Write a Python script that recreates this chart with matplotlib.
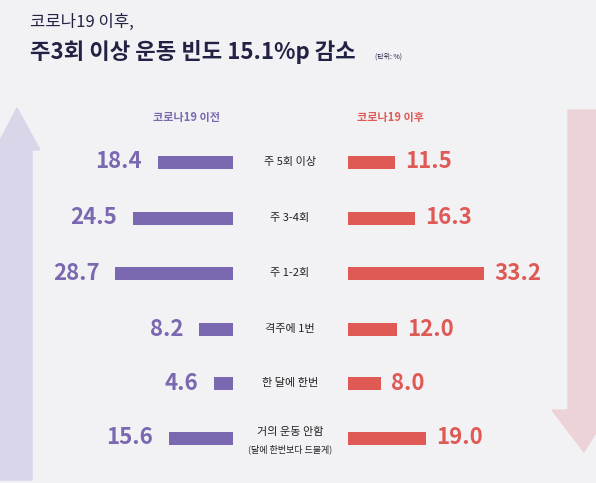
import matplotlib
matplotlib.use("Agg")
import matplotlib.pyplot as plt
from matplotlib.patches import Polygon

plt.rcParams['font.family'] = ['Noto Sans CJK KR', 'DejaVu Sans']

categories = ["주 5회 이상", "주 3-4회", "주 1-2회", "격주에 1번", "한 달에 한번", "거의 운동 안함"]
before = [18.4, 24.5, 28.7, 8.2, 4.6, 15.6]
after = [11.5, 16.3, 33.2, 12.0, 8.0, 19.0]

W, H = 596, 483
fig = plt.figure(figsize=(W/100, H/100), dpi=100)
fig.patch.set_facecolor("#f2f2f5")
ax = fig.add_axes([0, 0, 1, 1])
ax.set_xlim(0, W); ax.set_ylim(H, 0); ax.axis("off")
ax.set_facecolor("#f2f2f5")

purple = "#7a68b0"; red = "#e05a55"
scale = 4.1
ys = [162, 218, 273, 329, 383, 438]
lx, rx = 233, 348

ax.add_patch(Polygon([(0,480),(0,150),(-5,150),(17,108),(40,150),(32,150),(32,480)], closed=True, color="#d9d6ea", zorder=0))
ax.add_patch(Polygon([(568,110),(568,410),(552,410),(584,452),(610,410),(598,410),(598,110)], closed=True, color="#ecd3d8", zorder=0))

ax.barh(ys, [-v*scale for v in before], left=lx, height=13, color=purple)
ax.barh(ys, [v*scale for v in after], left=rx, height=13, color=red)

for y, v in zip(ys, before):
    ax.text(lx - v*scale - 16, y, f"{v}", ha="right", va="center", fontsize=16, fontweight="semibold", color=purple)
for y, v in zip(ys, after):
    ax.text(rx + v*scale + 10, y, f"{v}", ha="left", va="center", fontsize=16, fontweight="semibold", color=red)
for y, c in zip(ys, categories):
    yy = y - 6 if c == "거의 운동 안함" else y
    ax.text(290, yy, c, ha="center", va="center", fontsize=8, color="#222222")
ax.text(290, ys[-1] + 11, "(달에 한번보다 드물게)", ha="center", va="center", fontsize=6.5, color="#222222")

ax.text(220, 118, "코로나19 이전", ha="right", va="center", fontsize=8, fontweight="bold", color=purple)
ax.text(357, 118, "코로나19 이후", ha="left", va="center", fontsize=8, fontweight="bold", color=red)

ax.text(30, 22, "코로나19 이후,", ha="left", va="center", fontsize=12, color="#222244")
ax.text(30, 52, "주3회 이상 운동 빈도 15.1%p 감소", ha="left", va="center", fontsize=16, fontweight="bold", color="#222244")
ax.text(375, 57, "(단위: %)", ha="left", va="center", fontsize=5, color="#222244")

fig.savefig("out.png", dpi=100, facecolor=fig.get_facecolor())
